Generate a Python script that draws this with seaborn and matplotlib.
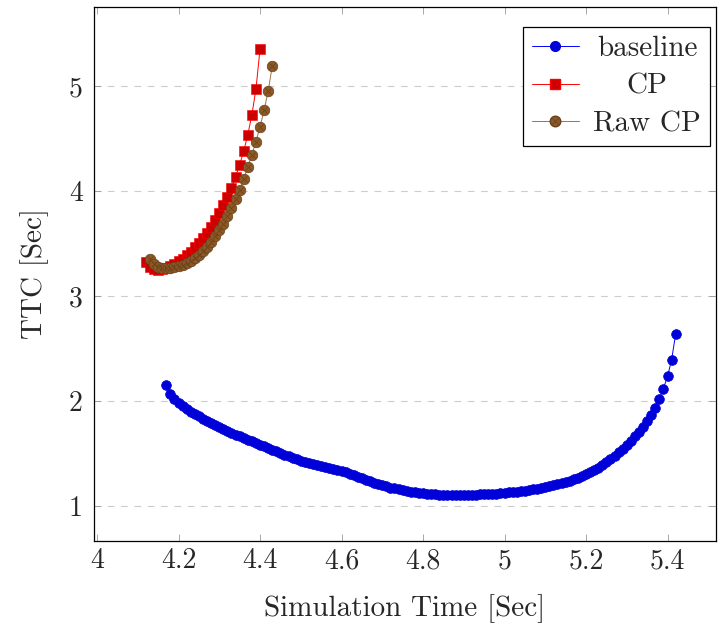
import matplotlib
matplotlib.use('Agg')
import numpy as np
import pandas as pd
import matplotlib.pyplot as plt
import seaborn as sns
from matplotlib.legend_handler import HandlerTuple

# --- data ---
baseline_t = [4.17, 4.18, 4.19, 4.20, 4.21, 4.22, 4.23, 4.24, 4.25, 4.26, 4.27, 4.28, 4.29, 4.30,
              4.31, 4.32, 4.33, 4.34, 4.35, 4.36, 4.37, 4.38, 4.39, 4.40, 4.41, 4.42, 4.43, 4.44,
              4.45, 4.46, 4.47, 4.48, 4.49, 4.50, 4.51, 4.52, 4.53, 4.54, 4.55, 4.56, 4.57, 4.58,
              4.59, 4.60, 4.61, 4.62, 4.63, 4.64, 4.65, 4.66, 4.67, 4.68, 4.69, 4.70, 4.71, 4.72,
              4.73, 4.74, 4.75, 4.76, 4.77, 4.78, 4.79, 4.80, 4.81, 4.82, 4.83, 4.84, 4.85, 4.86,
              4.87, 4.88, 4.89, 4.90, 4.91, 4.92, 4.93, 4.94, 4.95, 4.96, 4.97, 4.98, 4.99, 5.00,
              5.01, 5.02, 5.03, 5.04, 5.05, 5.06, 5.07, 5.08, 5.09, 5.10, 5.11, 5.12, 5.13, 5.14,
              5.15, 5.16, 5.17, 5.18, 5.19, 5.20, 5.21, 5.22, 5.23, 5.24, 5.25, 5.26, 5.27, 5.28,
              5.29, 5.30, 5.31, 5.32, 5.33, 5.34, 5.35, 5.36, 5.37, 5.38, 5.39, 5.40, 5.41, 5.42]
baseline_ttc = [2.150, 2.070, 2.015, 1.980, 1.950, 1.924, 1.900, 1.877, 1.855, 1.833, 1.812, 1.792,
                1.772, 1.752, 1.733, 1.715, 1.698, 1.681, 1.665, 1.649, 1.633, 1.617, 1.601, 1.585,
                1.569, 1.553, 1.537, 1.521, 1.505, 1.489, 1.474, 1.460, 1.446, 1.433, 1.421, 1.410,
                1.399, 1.389, 1.380, 1.372, 1.364, 1.356, 1.347, 1.336, 1.322, 1.308, 1.294, 1.280,
                1.265, 1.250, 1.236, 1.222, 1.209, 1.197, 1.186, 1.176, 1.167, 1.158, 1.150, 1.143,
                1.136, 1.130, 1.125, 1.121, 1.117, 1.114, 1.111, 1.109, 1.107, 1.106, 1.105, 1.105,
                1.105, 1.105, 1.106, 1.107, 1.108, 1.110, 1.112, 1.114, 1.116, 1.119, 1.122, 1.125,
                1.129, 1.133, 1.137, 1.142, 1.147, 1.152, 1.158, 1.164, 1.171, 1.185, 1.193, 1.201,
                1.210, 1.220, 1.230, 1.242, 1.255, 1.269, 1.285, 1.302, 1.320, 1.340, 1.365, 1.390,
                1.418, 1.447, 1.478, 1.510, 1.545, 1.582, 1.622, 1.664, 1.708, 1.755, 1.808, 1.868,
                1.938, 2.020, 2.118, 2.235, 2.390, 2.640]

cp_t = [4.12, 4.13, 4.14, 4.15, 4.16, 4.17, 4.18, 4.19, 4.20, 4.21, 4.22, 4.23, 4.24, 4.25, 4.26,
        4.27, 4.28, 4.29, 4.30, 4.31, 4.32, 4.33, 4.34, 4.35, 4.36, 4.37, 4.38, 4.39, 4.40]
cp_ttc = [3.325, 3.275, 3.255, 3.250, 3.255, 3.268, 3.285, 3.305, 3.330, 3.357, 3.387, 3.423,
          3.462, 3.505, 3.552, 3.603, 3.657, 3.720, 3.790, 3.865, 3.945, 4.030, 4.135, 4.250,
          4.380, 4.535, 4.725, 4.970, 5.350]

raw_t = [4.13, 4.14, 4.15, 4.16, 4.17, 4.18, 4.19, 4.20, 4.21, 4.22, 4.23, 4.24, 4.25, 4.26, 4.27,
         4.28, 4.29, 4.30, 4.31, 4.32, 4.33, 4.34, 4.35, 4.36, 4.37, 4.38, 4.39, 4.40, 4.41, 4.42,
         4.43]
raw_ttc = [3.350, 3.305, 3.280, 3.265, 3.262, 3.265, 3.272, 3.283, 3.297, 3.315, 3.337, 3.362,
           3.393, 3.428, 3.468, 3.515, 3.567, 3.625, 3.690, 3.765, 3.840, 3.920, 4.006, 4.117,
           4.230, 4.346, 4.470, 4.610, 4.770, 4.950, 5.190]

x_ticks = [4.0, 4.2, 4.4, 4.6, 4.8, 5.0, 5.2, 5.4]
x_tick_labels = ['4', '4.2', '4.4', '4.6', '4.8', '5', '5.2', '5.4']
y_ticks = [1, 2, 3, 4, 5]

baseline_df = pd.DataFrame({'t': baseline_t, 'ttc': baseline_ttc})
cp_df = pd.DataFrame({'t': cp_t, 'ttc': cp_ttc})
raw_df = pd.DataFrame({'t': raw_t, 'ttc': raw_ttc})

sns.set_style('ticks')
plt.rcParams['font.family'] = ['cmr10', 'DejaVu Serif']
plt.rcParams['axes.formatter.use_mathtext'] = True
plt.rcParams['mathtext.fontset'] = 'cm'

fig = plt.figure(figsize=(7.18, 6.25), dpi=100)
ax = fig.add_axes([94 / 718, 84 / 625, 622 / 718, 534 / 625])

blue_fill = (0.0, 0.0, 0.85)
red_fill = (0.8, 0.0, 0.0)
brown_fill = (0.55, 0.35, 0.15)
brown_edge = (0.4, 0.25, 0.1)
brown_line = (0.6, 0.45, 0.3)

sns.lineplot(data=baseline_df, x='t', y='ttc', ax=ax, color='blue', lw=0.7,
             marker='o', markersize=7.0, markerfacecolor=blue_fill, markeredgecolor=blue_fill,
             markeredgewidth=0.5, estimator=None, sort=False, zorder=3)
sns.lineplot(data=raw_df, x='t', y='ttc', ax=ax, color=brown_line, lw=0.7,
             marker='o', markersize=7.6, markerfacecolor=brown_fill, markeredgecolor=brown_edge,
             markeredgewidth=0.5, estimator=None, sort=False, zorder=4)
ax.plot(raw_t, raw_ttc, ls='none', marker='x', markersize=4.6, color=brown_edge,
        markeredgewidth=0.5, zorder=5)
sns.lineplot(data=cp_df, x='t', y='ttc', ax=ax, color='red', lw=0.7,
             marker='s', markersize=7.4, markerfacecolor=red_fill, markeredgecolor='red',
             markeredgewidth=0.4, estimator=None, sort=False, zorder=3)

ax.set_xlim(3.9926, 5.519)
ax.set_ylim(0.667, 5.752)
ax.set_xticks(x_ticks)
ax.set_xticklabels(x_tick_labels)
ax.set_yticks(y_ticks)
ax.set_yticklabels([str(v) for v in y_ticks])

ax.yaxis.grid(True, ls=(0, (6, 6)), color='0.8', lw=0.8)
ax.xaxis.grid(False)
ax.tick_params(axis='both', direction='in', length=5, width=0.6, color='0.6',
               labelsize=20, top=True, right=True, pad=5)
ax.tick_params(axis='y', pad=8)
for s in ax.spines.values():
    s.set_color('black')
    s.set_linewidth(0.9)

ax.set_xlabel('Simulation Time [Sec]', fontsize=21, labelpad=14)
ax.set_ylabel('TTC [Sec]', fontsize=21, labelpad=14)

# legend with pgfplots-like markers
h_base, = ax.plot([], [], color='blue', lw=0.7, marker='o', markersize=7.0,
                  markerfacecolor=blue_fill, markeredgecolor=blue_fill)
h_cp, = ax.plot([], [], color='red', lw=0.7, marker='s', markersize=7.4,
                markerfacecolor=red_fill, markeredgecolor='red')
h_raw_o, = ax.plot([], [], color=brown_line, lw=0.7, marker='o', markersize=7.6,
                   markerfacecolor=brown_fill, markeredgecolor=brown_edge)
h_raw_x, = ax.plot([], [], ls='none', marker='x', markersize=4.6, color=brown_edge,
                   markeredgewidth=0.5)
leg = ax.legend([h_base, h_cp, (h_raw_o, h_raw_x)], ['baseline', 'CP', 'Raw CP'],
                handler_map={tuple: HandlerTuple(ndivide=1, pad=0)},
                loc='upper right', bbox_to_anchor=(0.99, 0.962), fontsize=21,
                frameon=True, fancybox=False, framealpha=1, edgecolor='black',
                borderpad=0.3, labelspacing=0.38, handlelength=1.6, handletextpad=0.5,
                borderaxespad=0)
leg.get_frame().set_linewidth(0.9)

# centre the legend entries like pgfplots does
fig.canvas.draw()
texts = leg.get_texts()
widths = [t.get_window_extent().width for t in texts]
for t, w in zip(texts, widths):
    t.set_position(((max(widths) - w) / 2, 0))

fig.savefig('out.png', dpi=100)
